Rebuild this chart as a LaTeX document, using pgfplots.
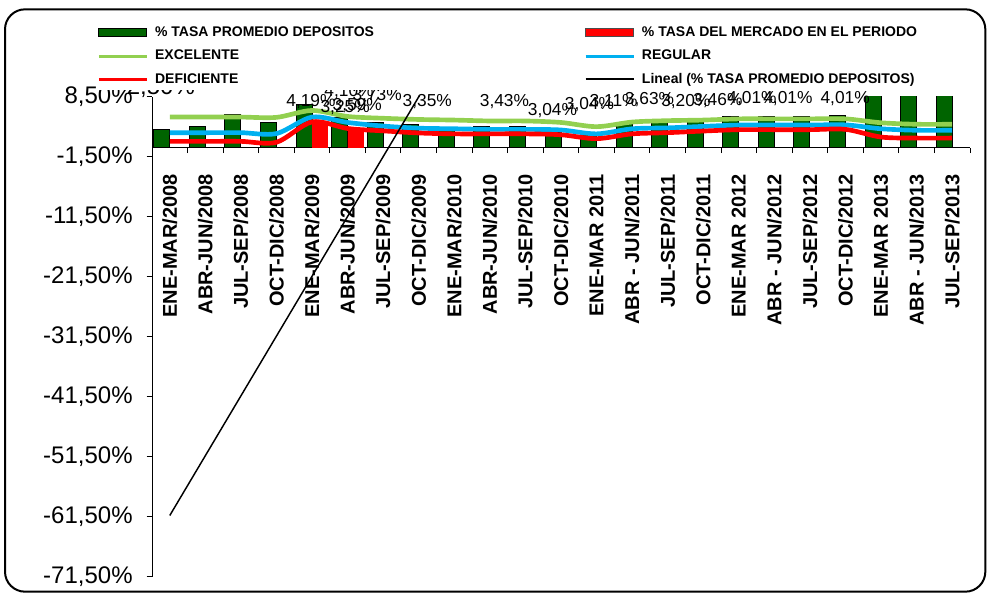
\documentclass[border=0pt]{standalone}
\usepackage{pgfplots}
\pgfplotsset{compat=1.18}
\usepackage{pgfplotstable}
\usepackage{fontspec}
\setmainfont{Liberation Sans}

\definecolor{bargreen}{RGB}{0,100,0}
\definecolor{excgreen}{RGB}{146,208,80}
\definecolor{regblue}{RGB}{0,176,240}
\definecolor{defred}{RGB}{255,0,0}

% idx: category, dep: % tasa promedio depositos, exc/reg/def: bands
\pgfplotstableread{
idx dep   exc  reg  def
0   3.00  5.10 2.50 1.05
1   3.60  5.10 2.50 1.05
2   5.55  5.10 2.50 1.05
3   4.27  5.05 2.35 0.90
4   7.20  6.20 5.10 4.30
5   5.00  5.20 4.20 3.20
6   4.20  4.90 3.60 2.80
7   3.80  4.70 3.25 2.45
8   3.20  4.60 3.15 2.30
9   3.55  4.45 3.05 2.30
10  3.55  4.45 3.05 2.30
11  2.60  4.20 2.95 2.15
12  2.30  3.50 2.30 1.50
13  4.27  4.27 3.15 2.30
14  4.30  4.50 3.30 2.50
15  4.55  4.60 3.55 2.77
16  5.20  4.80 3.77 3.00
17  5.20  4.80 3.77 3.00
18  5.20  4.80 3.77 3.00
19  5.40  4.80 3.80 3.05
20  11.0  4.15 3.15 1.77
21  11.0  3.90 2.90 1.60
22  11.0  3.90 2.90 1.60
}\tasas

\begin{document}
\begin{tikzpicture}
\useasboundingbox (0pt,0pt) rectangle (740.25pt,-444.75pt);
\draw[line width=1.5pt, rounded corners=15pt] (3.75pt,-7pt) rectangle (739pt,-443.75pt);
\begin{axis}[
    at={(114pt,-432.5pt)}, anchor=south west,
    scale only axis,
    width=613.5pt, height=360pt,
    xmin=-0.5, xmax=22.5,
    ymin=-71.5, ymax=8.5,
    clip mode=individual,
    axis x line*=middle, axis y line*=left,
    hide obscured x ticks=false, hide obscured y ticks=false,
    axis line style={black, line width=0.75pt},
    tick style={black, line width=0.75pt},
    tick align=outside,
    major tick length=4pt,
    xtick={-0.5,0.5,...,22.5},
    x tick label as interval,
    xticklabels={ENE-MAR/2008, ABR-JUN/2008, JUL-SEP/2008, OCT-DIC/2008,
        ENE-MAR/2009, ABR-JUN/2009, JUL-SEP/2009, OCT-DIC/2009,
        ENE-MAR/2010, ABR-JUN/2010, JUL-SEP/2010, OCT-DIC/2010,
        ENE-MAR 2011, ABR - JUN/2011, JUL-SEP/2011, OCT-DIC/2011,
        ENE-MAR 2012, ABR - JUN/2012, JUL-SEP/2012, OCT-DIC/2012,
        ENE-MAR 2013, ABR - JUN/2013, JUL-SEP/2013},
    xticklabel style={yshift=-12.5pt, rotate=90, anchor=east,
        font=\bfseries\fontsize{15}{18}\selectfont},
    ytick={-71.5,-61.5,...,8.5},
    yticklabels={{-71,50\%},{-61,50\%},{-51,50\%},{-41,50\%},{-31,50\%},
        {-21,50\%},{-11,50\%},{-1,50\%},{8,50\%}},
    yticklabel style={xshift=-7pt, font=\fontsize{18}{20}\selectfont},
    legend columns=2,
    legend cell align=left,
    legend style={at={(-0.0672,1.1560)}, anchor=north west,
        fill=white, draw=none, inner sep=0pt,
        column sep=0pt, row sep=1.2pt,
        font=\bfseries\fontsize{10.5}{12}\selectfont,
        nodes={inner sep=0pt, minimum height=16.2pt}},
]
\addplot[ybar, bar width=12pt, bar shift=-6pt, fill=bargreen, draw=black,
    line width=0.75pt,
    legend image code/.code={\draw[fill=bargreen, draw=black, line width=0.75pt]
        (0pt,-3pt) rectangle (36pt,3pt); \path (40.5pt,0pt);}]
    table[x=idx, y=dep] {\tasas};
\addlegendentry{\makebox[321.75pt][l]{\% TASA PROMEDIO DEPOSITOS}}

\addplot[ybar, bar width=11.5pt, bar shift=6pt, fill=defred, draw=defred,
    legend image code/.code={\draw[fill=defred, draw=black!70, line width=0.75pt]
        (0pt,-3pt) rectangle (36pt,3pt); \path (40.5pt,0pt);}]
    coordinates {(4,4.3) (5,3.1)};
\addlegendentry{\% TASA DEL MERCADO EN EL PERIODO}

\addplot[excgreen, line width=3.5pt, smooth, mark=none,
    legend image code/.code={\draw[excgreen, line width=2.25pt]
        (0pt,0pt) -- (36pt,0pt); \path (40.5pt,0pt);}]
    table[x=idx, y=exc] {\tasas};
\addlegendentry{EXCELENTE}

\addplot[regblue, line width=3.5pt, smooth, mark=none,
    legend image code/.code={\draw[regblue, line width=2.25pt]
        (0pt,0pt) -- (36pt,0pt); \path (40.5pt,0pt);}]
    table[x=idx, y=reg] {\tasas};
\addlegendentry{REGULAR}

\addplot[defred, line width=3.5pt, smooth, mark=none,
    legend image code/.code={\draw[defred, line width=2.25pt]
        (0pt,0pt) -- (36pt,0pt); \path (40.5pt,0pt);}]
    table[x=idx, y=def] {\tasas};
\addlegendentry{DEFICIENTE}

\addplot[black, line width=1.1pt, mark=none,
    legend image code/.code={\draw[black, line width=1.5pt]
        (0pt,0pt) -- (36pt,0pt); \path (40.5pt,0pt);}]
    coordinates {(0,-61.3) (22,158)};
\addlegendentry{Lineal (\% TASA PROMEDIO DEPOSITOS)}

% data labels, overlapping as in the original
\begin{scope}[every node/.style={font=\fontsize{13}{15}\selectfont, inner sep=0pt}]
\node[anchor=base, font=\fontsize{18}{20}\selectfont] at (axis cs:-0.25,8.9) {2,50\%};
\node at (axis cs:3.97,7.72) {4,19\%};
\node at (axis cs:5.04,9.38) {4,10\%};
\node at (axis cs:4.93,6.72) {3,25\%};
\node at (axis cs:5.27,7.05) {3,59\%};
\node at (axis cs:5.83,8.72) {3,73\%};
\node at (axis cs:7.24,7.72) {3,35\%};
\node at (axis cs:9.41,7.72) {3,43\%};
\node at (axis cs:10.76,6.22) {3,04\%};
\node at (axis cs:11.80,7.22) {3,04\%};
\node at (axis cs:12.48,7.72) {3,11\%};
\node at (axis cs:13.49,8.05) {3,63\%};
\node at (axis cs:14.51,7.72) {3,20\%};
\node at (axis cs:15.41,7.88) {3,46\%};
\node at (axis cs:16.37,8.22) {4,01\%};
\node at (axis cs:17.38,8.22) {4,01\%};
\node at (axis cs:18.99,8.22) {4,01\%};
\end{scope}
\end{axis}
\end{tikzpicture}
\end{document}
